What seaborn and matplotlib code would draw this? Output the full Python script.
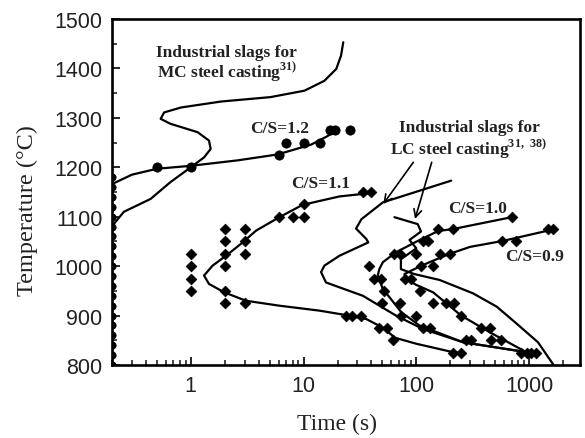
import numpy as np
import pandas as pd
import matplotlib
matplotlib.use("Agg")
import matplotlib.pyplot as plt
from matplotlib.ticker import FixedLocator, LogLocator, MultipleLocator, NullFormatter
import seaborn as sns

# ---------------- data (time in s, temperature in degC) ----------------
# fitted curves
mc_t = [0.2, 0.255, 0.44, 0.66, 1.0, 1.31, 1.5, 1.45, 1.15, 0.66, 0.54, 0.58, 0.82, 1.85, 5.1, 10.2, 15.3, 19.5, 21.5, 22.5]
mc_T = [1081, 1110, 1136, 1170, 1200, 1220, 1237, 1254, 1271, 1288, 1298, 1311, 1321, 1333, 1342, 1355, 1375, 1399, 1426, 1453]

c12_t = [0.2, 0.3, 0.5, 1.0, 2.6, 5.9, 11.7, 16, 20]
c12_T = [1166, 1185, 1197, 1203, 1214, 1226, 1246, 1262, 1276]

c11_t = [40, 20.8, 9.8, 6.1, 3.8, 2.78, 2.05, 1.56, 1.31, 1.45, 1.98, 3.08, 6.1, 13.8, 23.8, 36, 50, 65, 100, 211, 250]
c11_T = [1148, 1141, 1124, 1099, 1072, 1045, 1021, 1001, 981, 964, 947, 930, 920, 910, 901, 893, 876, 855, 843, 826, 824]

c10_t = [700, 211, 156, 103, 66, 50.5, 47, 45.5, 50.5, 73.5, 106.6, 260, 945]
c10_T = [1099, 1075, 1071, 1051, 1028, 1008, 994, 981, 954, 907, 880, 846, 826]

c09_t = [1480, 585, 300, 198, 131, 96, 78.5, 81, 100, 141, 250, 450, 945]
c09_T = [1072, 1051, 1039, 1025, 1008, 994, 984, 974, 962, 947, 900, 866, 826]

lc1_t = [204, 50.5, 32.6, 29.2, 36, 37.5, 20.8, 15.3, 14.3, 15.8, 33.6, 66, 114, 260, 945]
lc1_T = [1173, 1129, 1095, 1076, 1055, 1048, 1021, 1001, 988, 967, 940, 900, 873, 846, 826]

lc2_t = [64, 103, 110, 87, 100, 73, 73, 96, 161, 318, 517, 773, 1200, 1650]
lc2_T = [1099, 1085, 1070, 1053, 1036, 1014, 994, 984, 972, 945, 918, 884, 846, 800]

# measured points
axis_t = [0.2] * 20
axis_T = [800, 820, 840, 860, 880, 900, 920, 940, 960, 980, 1000, 1020, 1040, 1060, 1080, 1100, 1120, 1140, 1160, 1180]

p12_t = [0.5, 1, 6, 7, 10, 14, 17, 19, 26]
p12_T = [1200, 1200, 1225, 1250, 1250, 1250, 1275, 1275, 1275]

p11_t = [1, 1, 1, 1, 2, 2, 2, 2, 2, 2, 3, 3, 3, 3, 6, 8, 10, 10, 34, 40, 24, 27, 32, 47, 55, 62, 210, 250]
p11_T = [1025, 1000, 975, 950, 1075, 1050, 1025, 1000, 950, 925, 1075, 1050, 1025, 925, 1100, 1100, 1100, 1125, 1150, 1150, 900, 900, 900, 875, 875, 850, 825, 825]

p10_t = [700, 210, 155, 115, 128, 100, 64, 71, 38, 42, 49, 52, 50, 71, 73, 100, 114, 131, 277, 306]
p10_T = [1100, 1075, 1075, 1050, 1050, 1025, 1025, 1025, 1000, 975, 975, 950, 925, 925, 900, 900, 875, 875, 850, 850]

p09_t = [1480, 1640, 570, 770, 161, 198, 111, 141, 79, 90, 107, 140, 184, 218, 250, 377, 450, 460, 560, 850, 950, 1050, 1150]
p09_T = [1075, 1075, 1050, 1050, 1025, 1025, 1000, 1000, 975, 975, 950, 925, 925, 925, 900, 875, 875, 850, 850, 825, 825, 825, 825]

x_ticks = [1, 10, 100, 1000]
x_tick_labels = ["1", "10", "100", "1000"]
y_ticks = [800, 900, 1000, 1100, 1200, 1300, 1400, 1500]

# ---------------- style ----------------
sns.set_style("ticks")
plt.rcParams["font.family"] = ["Liberation Serif", "DejaVu Serif"]
plt.rcParams["mathtext.fontset"] = "custom"
plt.rcParams["mathtext.rm"] = "Liberation Serif"
plt.rcParams["mathtext.bf"] = "Liberation Serif:bold"

W, H = 585, 439
fig = plt.figure(figsize=(W / 100, H / 100), dpi=100)
fig.patch.set_facecolor("white")
L, R, T0, B = 112, 580, 20, 366
ax = fig.add_axes([L / W, 1 - B / H, (R - L) / W, (B - T0) / H])
ax.set_xscale("log")

lw = 1.6
for xs, ys in [(mc_t, mc_T), (c12_t, c12_T), (c11_t, c11_T), (c10_t, c10_T),
               (c09_t, c09_T), (lc1_t, lc1_T), (lc2_t, lc2_T)]:
    sns.lineplot(x=xs, y=ys, sort=False, estimator=None, color="black",
                 linewidth=lw, ax=ax, legend=False)

sns.scatterplot(x=axis_t, y=axis_T, marker="o", s=28,
                color="black", edgecolor="black", linewidth=0.5, ax=ax, legend=False)
sns.scatterplot(x=p12_t, y=p12_T, marker="o", s=45,
                color="black", edgecolor="black", linewidth=0.5, ax=ax, legend=False)
sns.scatterplot(x=p11_t + p10_t + p09_t, y=p11_T + p10_T + p09_T, marker="D", s=30,
                color="black", edgecolor="black", linewidth=0.5, ax=ax, legend=False)

ax.set_xlim(0.2, 2830)
ax.set_ylim(800, 1500)

ax.xaxis.set_major_locator(FixedLocator(x_ticks))
ax.set_xticklabels(x_tick_labels)
ax.xaxis.set_minor_locator(LogLocator(base=10, subs=np.arange(2, 10)))
ax.xaxis.set_minor_formatter(NullFormatter())
ax.yaxis.set_major_locator(FixedLocator(y_ticks))
ax.yaxis.set_minor_locator(MultipleLocator(50))

for lab in ax.get_xticklabels() + ax.get_yticklabels():
    lab.set_fontfamily("Liberation Sans")
    lab.set_fontsize(15.5)
    lab.set_color("#222222")

ax.tick_params(which="major", direction="in", length=6, width=1.4, pad=7,
               top=False, right=False)
ax.tick_params(which="minor", direction="in", length=3.5, width=1.2,
               top=False, right=False)
for s in ax.spines.values():
    s.set_linewidth(1.9)
    s.set_color("black")

ax.set_xlabel("Time (s)", fontsize=17, color="#222222")
ax.set_ylabel("Temperature (\u00b0C)", fontsize=17.5, color="#222222")
ax.xaxis.set_label_coords(0.481, -0.137)
ax.yaxis.set_label_coords(-0.158, 0.448)

def fx(px):
    return (px - L) / (R - L)

def fy(py):
    return (B - py) / (B - T0)

tk = dict(transform=ax.transAxes, fontsize=12.5, fontweight="bold", color="#222222")
ax.text(fx(156), fy(52.7), "Industrial slags for", ha="left", va="center", **tk)
ax.text(fx(157), fy(73.3), r"MC steel casting$^{\mathbf{31)}}$", ha="left", va="center", **tk)
ax.text(fx(469), fy(128.3), "Industrial slags for", ha="center", va="center", **tk)
ax.text(fx(469), fy(150), r"LC steel casting$^{\mathbf{31,\ 38)}}$", ha="center", va="center", **tk)
ax.text(fx(280), fy(129.3), "C/S=1.2", ha="center", va="center", **tk)
ax.text(fx(321), fy(184), "C/S=1.1", ha="center", va="center", **tk)
ax.text(fx(477.5), fy(209.3), "C/S=1.0", ha="center", va="center", **tk)
ax.text(fx(535), fy(257.3), "C/S=0.9", ha="center", va="center", **tk)

ap = dict(arrowstyle="->", color="black", lw=1.2, mutation_scale=14, shrinkA=0, shrinkB=0)
ax.annotate("", xy=(fx(383.3), fy(205)), xytext=(fx(413.3), fy(163.3)),
            xycoords="axes fraction", textcoords="axes fraction", arrowprops=ap)
ax.annotate("", xy=(fx(415), fy(220)), xytext=(fx(431.7), fy(163.3)),
            xycoords="axes fraction", textcoords="axes fraction", arrowprops=ap)

fig.savefig("out.png", dpi=100, facecolor="white")
